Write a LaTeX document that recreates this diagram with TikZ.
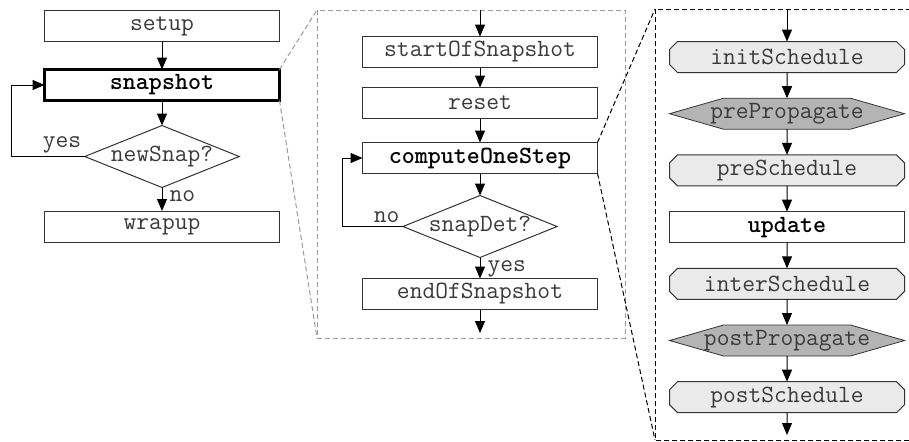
\documentclass[tikz,border=0pt]{standalone}
\usetikzlibrary{positioning,arrows.meta,backgrounds,shapes.geometric,shapes.misc}
\definecolor{flowLine}{HTML}{333333}
\definecolor{flowText}{HTML}{3A3A3A}
\definecolor{schedFill}{HTML}{EAEAEA}
\definecolor{propFill}{HTML}{B4B4B4}
\definecolor{zoomGray}{HTML}{9A9A9A}
\newcommand{\fn}[1]{\textbf{#1}}

\begin{document}
\begin{tikzpicture}[x=0.5pt,y=-0.5pt,line width=0.5pt,text=flowText,
        font=\fontsize{12.4}{13}\selectfont\ttfamily,
        box/.style={draw=flowLine,fill=white,minimum width=117.5pt,minimum height=15.5pt,
                    inner sep=0pt,outer sep=0pt},
        mainbox/.style={box,draw=black,line width=1.5pt,text=black},
        decision/.style={diamond,draw=flowLine,fill=white,aspect=2.5,minimum width=77pt,
                         minimum height=31pt,inner sep=0pt,outer sep=0pt},
        sched/.style={box,chamfered rectangle,chamfered rectangle xsep=2pt,
                      chamfered rectangle ysep=2pt,fill=schedFill},
        hexbox/.style={minimum width=117.5pt,minimum height=15.5pt,inner sep=0pt,outer sep=0pt},
        hexline/.style={draw=flowLine,fill=propFill},
        lbl/.style={inner sep=1.5pt},
        flow/.style={-{Triangle[length=6pt,width=5pt]},black},
        zoomline/.style={dashed,dash pattern=on 2.5pt off 1.5pt,zoomGray},
        zoomdark/.style={dashed,dash pattern=on 2.5pt off 1.5pt,black}]
        \clip (0,0) rectangle (909,441);
        % main loop
        \node[box] (setup) at (162,26) {setup};
        \node[mainbox,below=14pt of setup] (snap) {\fn{snapshot}};
        \node[decision,below=12.5pt of snap] (newsnap) {newSnap?};
        \node[box,below=11.75pt of newsnap] (wrapup) {wrapup};
        \draw[flow] (setup)--(snap);
        \draw[flow] (snap)--(newsnap);
        \draw[flow] (newsnap)--(wrapup);
        \draw[flow] (newsnap.west)--++(-73,0)|-(snap.west);
        \node[lbl,anchor=south east] (yes1) at (newsnap.west) {yes};
        \node[lbl,anchor=north west,xshift=2pt] (no1) at (newsnap.south) {no};
        % snapshot
        \coordinate (mtl) at (317,10);
        \coordinate (mbl) at (317,338);
        \coordinate (mbr) at (625,338);
        \draw[zoomline] (mtl) rectangle (mbr);
        \draw[zoomline] (snap.north east)--(mtl);
        \draw[zoomline] (snap.south east)--(mbl);
        \coordinate (min) at (480,10);
        \node[box] (start) at (480,52) {startOfSnapshot};
        \node[box,below=10pt of start] (reset) {reset};
        \node[box,text=black,below=12pt of reset] (compute) {\fn{computeOneStep}};
        \node[decision,below=11pt of compute] (snapdet) {snapDet?};
        \node[box,below=10.5pt of snapdet] (endsnap) {endOfSnapshot};
        \coordinate (mout) at (480,333);
        \draw[flow] (min)--(start);
        \draw[flow] (start)--(reset);
        \draw[flow] (reset)--(compute);
        \draw[flow] (compute)--(snapdet);
        \draw[flow] (snapdet)--(endsnap);
        \draw[flow] (endsnap)--(mout);
        \draw[flow] (snapdet.west)--++(-60,0)|-(compute.west);
        \node[lbl,anchor=south east] (no2) at (snapdet.west) {no};
        \node[lbl,anchor=north west,xshift=2pt] (yes2) at (snapdet.south) {yes};
        % one step
        \coordinate (rtl) at (655,9);
        \coordinate (rbl) at (655,440);
        \coordinate (rbr) at (940,440);
        \draw[zoomdark] (rtl) rectangle (rbr);
        \draw[zoomdark] (compute.north east)--(rtl);
        \draw[zoomdark] (compute.south east)--(rbl);
        \coordinate (rin) at (787,9);
        \node[sched] (init) at (787,57) {initSchedule};
        \node[hexbox,below=12.85pt of init] (prep) {prePropagate};
        \node[sched,below=12.85pt of prep] (presched) {preSchedule};
        \node[box,text=black,below=12.85pt of presched] (update) {\fn{update}};
        \node[sched,below=12.85pt of update] (inter) {interSchedule};
        \node[hexbox,below=12.85pt of inter] (postp) {postPropagate};
        \node[sched,below=12.85pt of postp] (postsched) {postSchedule};
        \coordinate (rout) at (787,435);
        \begin{scope}[on background layer]
          \foreach \h in {prep,postp}
            \draw[hexline] (\h.west)--([xshift=27pt]\h.north west)--([xshift=-27pt]\h.north east)
              --(\h.east)--([xshift=-27pt]\h.south east)--([xshift=27pt]\h.south west)--cycle;
        \end{scope}
        \draw[flow] (rin)--(init);
        \draw[flow] (init)--(prep);
        \draw[flow] (prep)--(presched);
        \draw[flow] (presched)--(update);
        \draw[flow] (update)--(inter);
        \draw[flow] (inter)--(postp);
        \draw[flow] (postp)--(postsched);
        \draw[flow] (postsched)--(rout);
      \end{tikzpicture}
\end{document}
